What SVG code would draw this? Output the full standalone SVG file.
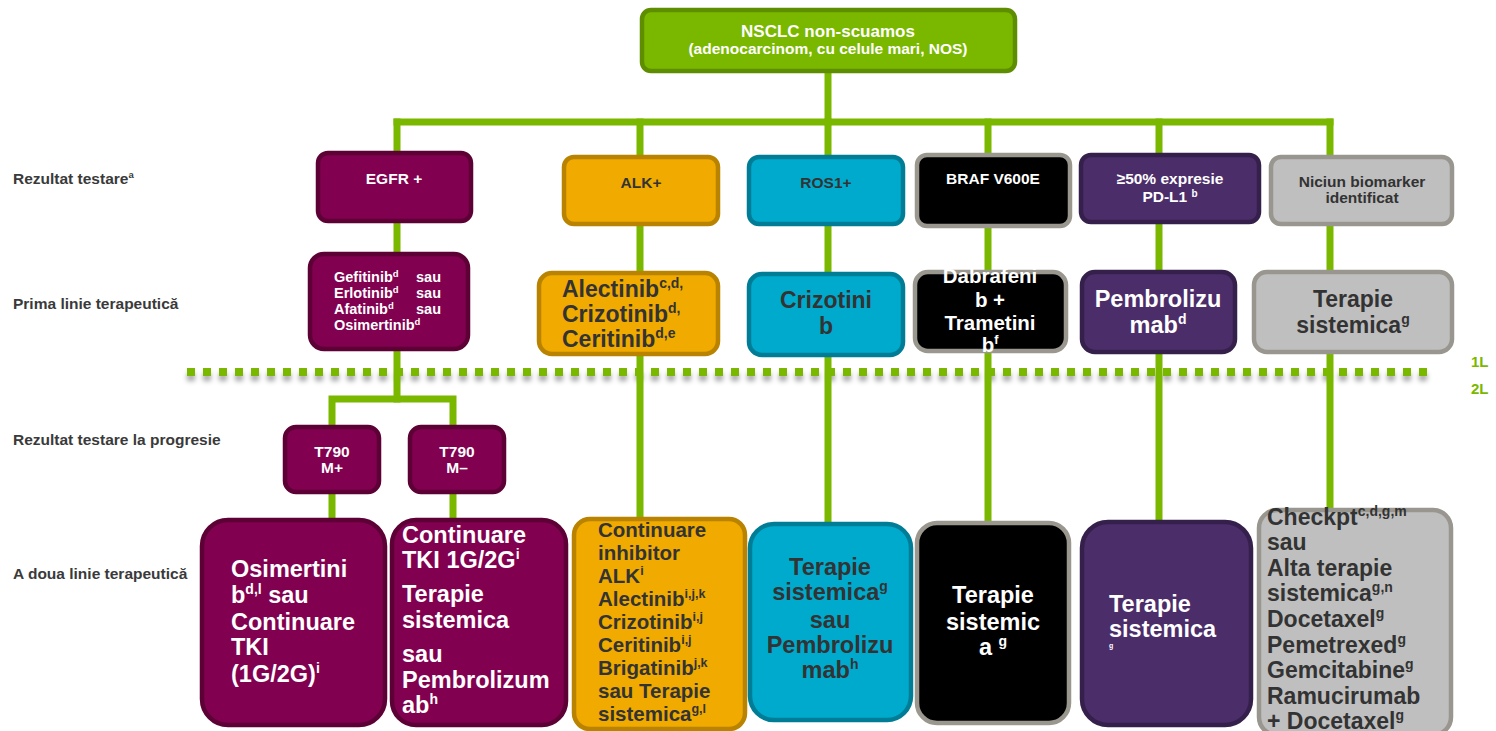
<svg xmlns="http://www.w3.org/2000/svg" width="1496" height="731" viewBox="0 0 1496 731">
<defs>
<style>
text{font-family:"Liberation Sans",Arial,Helvetica,sans-serif;font-weight:bold}
.lbl{font-size:15.5px;fill:#3a3a3a}
.w{fill:#fff}
.d{fill:#333}
.c{text-anchor:middle}
.conn{stroke:#7ab800;stroke-width:7;fill:none;stroke-linecap:square}
.mag{fill:#820050;stroke:#5c0035;stroke-width:4.5}
.org{fill:#f0aa00;stroke:#b98300;stroke-width:4.5}
.cya{fill:#00aacc;stroke:#007d96;stroke-width:4.5}
.blk{fill:#000;stroke:#9a978f;stroke-width:4.5}
.pur{fill:#4b2d6a;stroke:#35204c;stroke-width:4.5}
.gry{fill:#bfbfbf;stroke:#98968e;stroke-width:4.5}
.grn{fill:#7ab800;stroke:#5e8e00;stroke-width:4.5}
.f15{font-size:15.5px}
.f14{font-size:14.5px}
.f20{font-size:20.5px}
.f23{font-size:23px}
.f235{font-size:23.5px}
</style>
<filter id="sh" filterUnits="userSpaceOnUse" x="170" y="355" width="1280" height="40">
<feGaussianBlur in="SourceAlpha" stdDeviation="2.5"/>
<feOffset dy="5" result="b"/>
<feFlood flood-color="#000" flood-opacity="0.35"/>
<feComposite in2="b" operator="in"/>
<feMerge><feMergeNode/><feMergeNode in="SourceGraphic"/></feMerge>
</filter>
</defs>
<rect width="1496" height="731" fill="#fff"/>

<!-- row labels -->
<g id="row-labels">
<text class="lbl" x="13" y="184">Rezultat testare<tspan dy="-6" font-size="9.5">a</tspan></text>
<text class="lbl" x="13" y="309">Prima linie terapeutică</text>
<text class="lbl" x="13" y="445">Rezultat testare la progresie</text>
<text class="lbl" x="13" y="579">A doua linie terapeutică</text>
</g>

<!-- 1L / 2L separator -->
<g id="separator">
<line x1="187" y1="372" x2="1428" y2="372" stroke="#7ab800" stroke-width="8" stroke-dasharray="8 8" filter="url(#sh)"/>
<text x="1471" y="367" font-size="15" fill="#7ab800">1L</text>
<text x="1471" y="394" font-size="15" fill="#7ab800">2L</text>
</g>

<!-- connectors -->
<g id="connectors" class="conn">
<path d="M828 71V122"/>
<path d="M397 122H1330"/>
<path d="M397 122V399"/>
<path d="M640 122V520"/>
<path d="M828 122V522"/>
<path d="M988 122V521"/>
<path d="M1159 122V520"/>
<path d="M1330 122V510"/>
<path d="M332 518V399H453V518"/>
</g>

<!-- root -->
<g id="n-root">
<rect class="grn" x="642" y="10" width="373" height="61" rx="9"/>
<text class="w c" x="828" y="37" font-size="17">NSCLC non-scuamos</text>
<text class="w c" x="828" y="54" font-size="15.5">(adenocarcinom, cu celule mari, NOS)</text>
</g>

<!-- biomarker row -->
<g id="n-egfr">
<rect class="mag" x="318" y="153" width="153" height="68" rx="10"/>
<text class="w c f15" x="394" y="184">EGFR +</text>
</g>
<g id="n-alk">
<rect class="org" x="564" y="157" width="154" height="67" rx="10"/>
<text class="d c f15" x="641" y="188">ALK+</text>
</g>
<g id="n-ros1">
<rect class="cya" x="749" y="157" width="154" height="67" rx="10"/>
<text class="d c f15" x="826" y="188">ROS1+</text>
</g>
<g id="n-braf">
<rect class="blk" x="917" y="155" width="153" height="71" rx="10"/>
<text class="w c f15" x="993" y="184">BRAF V600E</text>
</g>
<g id="n-pdl1">
<rect class="pur" x="1081" y="155" width="178" height="67" rx="10"/>
<text class="w c f15" x="1170" y="184">≥50% expresie</text>
<text class="w c f15" x="1170" y="202">PD-L1 <tspan dy="-5" font-size="10">b</tspan></text>
</g>
<g id="n-none">
<rect class="gry" x="1271" y="157" width="181" height="67" rx="10"/>
<text class="d c f15" x="1362" y="187">Niciun biomarker</text>
<text class="d c f15" x="1362" y="203">identificat</text>
</g>

<!-- first line -->
<g id="n-egfr-1l">
<rect class="mag" x="310" y="254" width="158" height="95" rx="14"/>
<text class="w f14" x="334" y="282">Gefitinib<tspan dy="-5" font-size="9.5">d</tspan></text>
<text class="w f14" x="416" y="282">sau</text>
<text class="w f14" x="334" y="298">Erlotinib<tspan dy="-5" font-size="9.5">d</tspan></text>
<text class="w f14" x="416" y="298">sau</text>
<text class="w f14" x="334" y="314">Afatinib<tspan dy="-5" font-size="9.5">d</tspan></text>
<text class="w f14" x="416" y="314">sau</text>
<text class="w f14" x="334" y="330">Osimertinib<tspan dy="-5" font-size="9.5">d</tspan></text>
</g>
<g id="n-alk-1l">
<rect class="org" x="539" y="273" width="179" height="81" rx="13"/>
<text class="d f23" x="562" y="297">Alectinib<tspan dy="-9" font-size="14">c,d,</tspan></text>
<text class="d f23" x="562" y="322">Crizotinib<tspan dy="-9" font-size="14">d,</tspan></text>
<text class="d f23" x="562" y="347">Ceritinib<tspan dy="-9" font-size="14">d,e</tspan></text>
</g>
<g id="n-ros1-1l">
<rect class="cya" x="749" y="274" width="154" height="81" rx="13"/>
<text class="d c f23" x="826" y="308">Crizotini</text>
<text class="d c f23" x="826" y="334">b</text>
</g>
<g id="n-braf-1l">
<rect class="blk" x="915" y="272" width="151" height="79" rx="13"/>
<text class="w c f20" x="990" y="283">Dabrafeni</text>
<text class="w c f20" x="990" y="307">b +</text>
<text class="w c f20" x="990" y="330">Trametini</text>
<text class="w c f20" x="990" y="352">b<tspan dy="-8" font-size="12.5">f</tspan></text>
</g>
<g id="n-pdl1-1l">
<rect class="pur" x="1082" y="272" width="153" height="80" rx="13"/>
<text class="w c f235" x="1158" y="307">Pembrolizu</text>
<text class="w c f235" x="1158" y="333">mab<tspan dy="-9" font-size="14">d</tspan></text>
</g>
<g id="n-none-1l">
<rect class="gry" x="1254" y="272" width="198" height="80" rx="13"/>
<text class="d c f23" x="1353" y="307">Terapie</text>
<text class="d c f23" x="1353" y="333">sistemica<tspan dy="-9" font-size="14">g</tspan></text>
</g>

<!-- progression test -->
<g id="n-t790-pos">
<rect class="mag" x="285" y="427" width="94" height="65" rx="11"/>
<text class="w c f15" x="332" y="457">T790</text>
<text class="w c f15" x="332" y="473">M+</text>
</g>
<g id="n-t790-neg">
<rect class="mag" x="410" y="427" width="94" height="65" rx="11"/>
<text class="w c f15" x="457" y="457">T790</text>
<text class="w c f15" x="457" y="473">M–</text>
</g>

<!-- second line -->
<g id="n-osim-2l">
<rect class="mag" x="202" y="520" width="183" height="205" rx="26"/>
<text class="w f235" x="231" y="577">Osimertini</text>
<text class="w f235" x="231" y="603">b<tspan dy="-9" font-size="14">d,l</tspan><tspan dy="9"> sau</tspan></text>
<text class="w f235" x="231" y="630">Continuare</text>
<text class="w f235" x="231" y="655">TKI</text>
<text class="w f235" x="231" y="682">(1G/2G)<tspan dy="-9" font-size="14">i</tspan></text>
</g>
<g id="n-cont-2l">
<rect class="mag" x="392" y="520" width="174" height="205" rx="24"/>
<text class="w f235" x="402" y="543">Continuare</text>
<text class="w f235" x="402" y="568">TKI 1G/2G<tspan dy="-9" font-size="14">i</tspan></text>
<text class="w f235" x="402" y="602">Terapie</text>
<text class="w f235" x="402" y="628">sistemica</text>
<text class="w f235" x="402" y="662">sau</text>
<text class="w f235" x="402" y="688">Pembrolizum</text>
<text class="w f235" x="402" y="713">ab<tspan dy="-9" font-size="14">h</tspan></text>
</g>
<g id="n-alk-2l">
<rect class="org" x="574" y="519" width="171" height="210" rx="16"/>
<text class="d f20" x="598" y="537">Continuare</text>
<text class="d f20" x="598" y="560">inhibitor</text>
<text class="d f20" x="598" y="583">ALK<tspan dy="-8" font-size="12.5">i</tspan></text>
<text class="d f20" x="598" y="606">Alectinib<tspan dy="-8" font-size="12.5">i,j,k</tspan></text>
<text class="d f20" x="598" y="629">Crizotinib<tspan dy="-8" font-size="12.5">i,j</tspan></text>
<text class="d f20" x="598" y="652">Ceritinib<tspan dy="-8" font-size="12.5">i,j</tspan></text>
<text class="d f20" x="598" y="675">Brigatinib<tspan dy="-8" font-size="12.5">j,k</tspan></text>
<text class="d f20" x="598" y="698">sau  Terapie</text>
<text class="d f20" x="598" y="721">sistemica<tspan dy="-8" font-size="12.5">g,l</tspan></text>
</g>
<g id="n-ros1-2l">
<rect class="cya" x="750" y="524" width="161" height="196" rx="24"/>
<text class="d c f235" x="830" y="575">Terapie</text>
<text class="d c f235" x="830" y="600">sistemica<tspan dy="-9" font-size="14">g</tspan></text>
<text class="d c f235" x="830" y="628">sau</text>
<text class="d c f235" x="830" y="653">Pembrolizu</text>
<text class="d c f235" x="830" y="678">mab<tspan dy="-9" font-size="14">h</tspan></text>
</g>
<g id="n-braf-2l">
<rect class="blk" x="917" y="523" width="152" height="200" rx="20"/>
<text class="w c f235" x="993" y="603">Terapie</text>
<text class="w c f235" x="993" y="630">sistemic</text>
<text class="w c f235" x="993" y="655">a <tspan dy="-9" font-size="14">g</tspan></text>
</g>
<g id="n-pdl1-2l">
<rect class="pur" x="1082" y="522" width="169" height="203" rx="26"/>
<text class="w f235" x="1109" y="612">Terapie</text>
<text class="w f235" x="1109" y="637">sistemica</text>
<text class="w" x="1109" y="648" font-size="7">g</text>
</g>
<g id="n-none-2l">
<rect class="gry" x="1259" y="510" width="192" height="225" rx="18"/>
<text class="d f23" x="1267" y="525">Checkpt<tspan dy="-9" font-size="14">c,d,g,m</tspan></text>
<text class="d f23" x="1267" y="550">sau</text>
<text class="d f23" x="1267" y="576">Alta terapie</text>
<text class="d f23" x="1267" y="601">sistemica<tspan dy="-9" font-size="14">g,n</tspan></text>
<text class="d f23" x="1267" y="627">Docetaxel<tspan dy="-9" font-size="14">g</tspan></text>
<text class="d f23" x="1267" y="652.5">Pemetrexed<tspan dy="-9" font-size="14">g</tspan></text>
<text class="d f23" x="1267" y="678">Gemcitabine<tspan dy="-9" font-size="14">g</tspan></text>
<text class="d f23" x="1267" y="703.5">Ramucirumab</text>
<text class="d f23" x="1267" y="729">+ Docetaxel<tspan dy="-9" font-size="14">g</tspan></text>
</g>
</svg>
